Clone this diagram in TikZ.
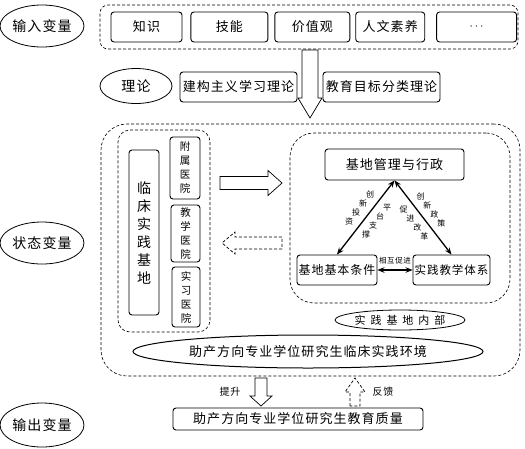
\documentclass[tikz,border=0pt]{standalone}
\usepackage{fontspec}
\setmainfont{Noto Sans CJK SC}[LetterSpace=8]
\newfontfamily\widecjk{Noto Sans CJK SC}[LetterSpace=45]
\usetikzlibrary{arrows.meta,shapes.geometric,positioning}

\tikzset{
  varell/.style={draw, ellipse, line width=0.8pt, inner sep=0pt, font=\fontsize{14}{16}\selectfont},
  box/.style={draw, rounded corners=3pt, line width=0.9pt, inner sep=0pt, font=\fontsize{13}{15}\selectfont},
  vbox/.style={box, align=center, font=\fontsize{10.5}{14}\selectfont},
  dashframe/.style={draw, dash pattern=on 3pt off 2pt, line width=0.6pt, inner sep=0pt},
  tri/.style={{Stealth[length=7pt,width=5.5pt]}-{Stealth[length=7pt,width=5.5pt]}, line width=1.3pt},
  slab/.style={font=\fontsize{8}{9}\selectfont, inner sep=0pt},
  blk/.style={line width=0.7pt},
  pics/blkarrow/.style n args={4}{code={%
    \draw[pic actions] (0,-#3/2) -- (#1-#2,-#3/2) -- (#1-#2,-#4/2) -- (#1,0)
      -- (#1-#2,#4/2) -- (#1-#2,#3/2) -- (0,#3/2) -- cycle;}}
}

\begin{document}
\begin{tikzpicture}[x=1pt,y=-1pt]
\useasboundingbox (0,0) rectangle (525,448);

% input variables
\node[varell, minimum width=82, minimum height=42] (invar) at (42,26) {输入变量};
\node[dashframe, rounded corners=8pt, minimum width=418, minimum height=44] (inbox) at (309,27) {};
\node[box, minimum width=71, minimum height=30] (know) at (146.5,27) {知识};
\node[box, minimum width=77, minimum height=30, right=8pt of know] (skill) {技能};
\node[box, minimum width=75, minimum height=30, right=6pt of skill] (value) {价值观};
\node[box, minimum width=69, minimum height=30, right=5pt of value] (human) {人文素养};
\node[box, minimum width=80, minimum height=30, right=11pt of human] (etc) {$\cdots$};

% theory
\node[varell, minimum width=72, minimum height=35] (theory) at (136,86) {理论};
\node[box, minimum width=117, minimum height=30] (cons) at (238.5,87) {建构主义学习理论};
\node[box, minimum width=117, minimum height=30] (bloom) at (381.5,87) {教育目标分类理论};
\pic[blk] at (310,50) [rotate=-90] {blkarrow={68}{20}{16}{24}};

% state variables
\node[varell, minimum width=80, minimum height=42] (stvar) at (42,243) {状态变量};
\node[dashframe, rounded corners=26pt, minimum width=419, minimum height=252] (stbox) at (310.5,250) {};
\node[dashframe, rounded corners=12pt, minimum width=92, minimum height=202] (basebox) at (164,231) {};
\node[box, minimum width=30, minimum height=165, align=center, font=\fontsize{14}{18}\selectfont] (base) at (144,232.5) {临\\床\\实\\践\\基\\地};
\node[vbox, minimum width=30, minimum height=62] (hosp1) at (185,168) {附\\属\\医\\院};
\node[vbox, minimum width=29, minimum height=57] (hosp2) at (185.5,233.5) {教\\学\\医\\院};
\node[vbox, minimum width=28, minimum height=60] (hosp3) at (186,297) {实\\习\\医\\院};
\pic[blk] at (220,183) {blkarrow={62}{14}{13}{25}};
\pic[blk, dash pattern=on 3pt off 2pt] at (282,243) [rotate=180] {blkarrow={60}{13}{12}{22}};

% inside the base
\node[dashframe, rounded corners=24pt, minimum width=220, minimum height=170] (inbase) at (400,218) {};
\node[box, minimum width=139, minimum height=31] (mgmt) at (394.5,164.5) {基地管理与行政};
\node[box, minimum width=80, minimum height=30, font=\fontsize{12}{14}\selectfont] (cond) at (337,270) {基地基本条件};
\node[box, minimum width=77, minimum height=30, font=\fontsize{11.5}{14}\selectfont] (teach) at (451.5,270) {实践教学体系};
\draw[tri] (mgmt.south) -- (cond.north);
\draw[tri] (mgmt.south) -- (teach.north);
\draw[tri] (cond.east) -- (teach.west)
  node[slab, midway, above=5pt, font=\fontsize{7.5}{9}\selectfont] (mutual) {相互促进};
% side labels, one character at a time
\foreach \c [count=\i] in {创,新,投,资}{
  \pgfmathsetmacro\p{0.46+(\i-2.5)*0.122}
  \path (mgmt.south) -- (cond.north) node[slab, pos=\p, xshift=-8.5pt, yshift=6.5pt] {\c};
}
\foreach \c [count=\i] in {平,台,支,撑}{
  \pgfmathsetmacro\p{0.46+(\i-2.5)*0.122}
  \path (mgmt.south) -- (cond.north) node[slab, pos=\p, xshift=8.5pt, yshift=-6.5pt] {\c};
}
\foreach \c [count=\i] in {创,新,政,策}{
  \pgfmathsetmacro\p{0.49+(\i-2.5)*0.122}
  \path (mgmt.south) -- (teach.north) node[slab, pos=\p, xshift=8.5pt, yshift=6.5pt] {\c};
}
\foreach \c [count=\i] in {促,进,改,革}{
  \pgfmathsetmacro\p{0.49+(\i-2.5)*0.122}
  \path (mgmt.south) -- (teach.north) node[slab, pos=\p, xshift=-8.5pt, yshift=-6.5pt] {\c};
}
\node[draw, ellipse, line width=0.8pt, minimum width=130, minimum height=20, inner sep=0pt, font=\widecjk\fontsize{11}{13}\selectfont] (inlab) at (400,320) {实践基地内部};
\node[draw, ellipse, line width=1pt, minimum width=350, minimum height=33, inner sep=0pt, font=\fontsize{13}{15}\selectfont] (env) at (308,351.5) {助产方向专业学位研究生临床实践环境};

% output variables
\node[varell, minimum width=82, minimum height=44] (outvar) at (42,425) {输出变量};
\node[box, minimum width=250, minimum height=22] (quality) at (298,419) {助产方向专业学位研究生教育质量};
\pic[blk] at (261,378) [rotate=-90] {blkarrow={28}{10}{12}{22}};
\pic[blk, dash pattern=on 3pt off 2pt] at (355,406) [rotate=90] {blkarrow={28}{14}{10}{20}};
\node[font=\fontsize{10}{12}\selectfont, inner sep=0pt] (up) at (230,392) {提升};
\node[font=\fontsize{10}{12}\selectfont, inner sep=0pt] (fb) at (383,392) {反馈};
\end{tikzpicture}
\end{document}
